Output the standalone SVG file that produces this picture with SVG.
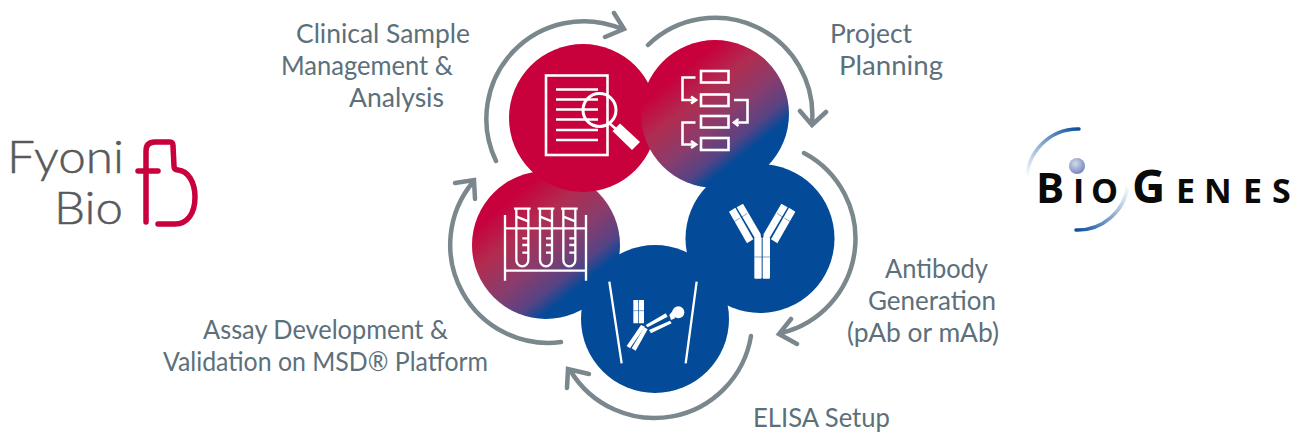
<svg xmlns="http://www.w3.org/2000/svg" width="1301" height="434" viewBox="0 0 1301 434">
<style>
.lbl{font-family:"Lato","Noto Sans",sans-serif;font-size:26.500px;fill:#5c707b}
.arc{fill:none;stroke:#7a878d;stroke-width:4.500;stroke-linecap:round;stroke-linejoin:miter}
.ic{fill:none;stroke:#fff;stroke-width:2.600}
.icz{fill:none;stroke:#fff;stroke-width:7}
.w{fill:#fff}
.fy{font-family:"Lato","Roboto",sans-serif;font-weight:300;font-size:46px;fill:#58595b;stroke:#58595b;stroke-width:.5}
.bg{font-family:"Open Sans",sans-serif;font-weight:700;fill:#0a0a0a}
</style>
<defs>
<linearGradient id="g2" gradientUnits="userSpaceOnUse" x1="692" y1="63" x2="757" y2="144"><stop offset="0" stop-color="#c8003c"/><stop offset=".3" stop-color="#b12c50"/><stop offset=".6" stop-color="#8a3c6c"/><stop offset=".85" stop-color="#574384"/><stop offset="1" stop-color="#034a98"/></linearGradient>
<linearGradient id="g5" gradientUnits="userSpaceOnUse" x1="503" y1="205" x2="573" y2="292"><stop offset="0" stop-color="#c8003c"/><stop offset=".3" stop-color="#b12c50"/><stop offset=".6" stop-color="#8a3c6c"/><stop offset=".85" stop-color="#574384"/><stop offset="1" stop-color="#034a98"/></linearGradient>
<radialGradient id="ball" cx=".4" cy=".35" r=".7"><stop offset="0" stop-color="#d5daea"/><stop offset="1" stop-color="#6f83bb"/></radialGradient>
<linearGradient id="a1" gradientUnits="userSpaceOnUse" x1="1079" y1="129" x2="1030" y2="180"><stop offset="0" stop-color="#0c4f9c"/><stop offset="1" stop-color="#fff"/></linearGradient>
<linearGradient id="a2" gradientUnits="userSpaceOnUse" x1="1076" y1="230" x2="1128" y2="185"><stop offset="0" stop-color="#0c4f9c"/><stop offset="1" stop-color="#fff"/></linearGradient>
</defs>
<rect width="1301" height="434" fill="#fff"/>
<g id="node-tubes">
<circle cx="546" cy="245" r="74" fill="url(#g5)"/>
<g transform="translate(495,200) scale(.33333)">
<path class="icz" d="M30 45V242M273 45V242M30 85H273M30 212H273"/>
<path class="icz" d="M64 27V180a18 19 0 0 0 36 0V27M135 27V180a18 19 0 0 0 36 0V27M205 27V180a18 19 0 0 0 36 0V27"/>
<path class="icz" stroke-width="8" d="M57 26H107M128 26H178M198 26H248"/>
<path class="icz" d="M64 50L100 64M135 50L171 64M205 50L241 64M82 115H100M82 135H100M82 158H100M153 115H171M153 135H171M153 158H171M223 115H241M223 135H241M223 158H241"/>
</g>
</g>
<g id="node-document">
<circle cx="583" cy="118" r="74" fill="#c8003c"/>
<rect class="ic" x="546" y="75.500" width="61.500" height="79.500"/>
<path class="ic" d="M556 89.500H598M556 99.500H598M556 109.500H598M556 119.500H598M556 130H598M556 140H598"/>
<circle cx="599.500" cy="110" r="16.500" fill="none" stroke="#fff" stroke-width="3"/>
<path class="ic" d="M609 123L616 129" stroke-width="3"/>
<polygon class="w" points="620,123.500 640,142 632,150 612.500,131"/>
</g>
<g id="node-planning">
<circle cx="715" cy="114" r="74" fill="url(#g2)"/>
<g class="ic">
<rect x="701" y="71" width="27.500" height="11.500"/>
<rect x="701" y="94.500" width="27.500" height="11.500"/>
<rect x="701" y="116" width="27.500" height="11.500"/>
<rect x="701" y="138" width="27.500" height="12"/>
<path d="M695.500 77.500H682.500V100H695M691 96.500L696 100L691 103.500M695.500 122.500H682.500V144.500H695M691 141L696 144.500L691 148M734 100H747.500V122.500H734M738.500 119L734 122.500L738.500 126"/>
</g>
</g>
<g id="node-antibody">
<circle cx="760" cy="238.500" r="74.500" fill="#034a98"/>
<g transform="translate(440,160) scale(.33333)">
<g class="w">
<rect x="943" y="232" width="22" height="124" rx="3"/><rect x="968" y="232" width="22" height="124" rx="3"/>
<polygon points="867,155 886,143 940,238 921,250"/><polygon points="890,142 909,131 962,222 963,233 944,233"/>
<polygon points="1066,155 1047,143 993,238 1012,250"/><polygon points="1043,142 1024,131 971,222 970,233 989,233"/>
</g>
<path d="M943 291H990M881 186L900 174M904 172L922 160M1052 186L1033 174M1029 172L1011 160" stroke="#034a98" stroke-width="1.500" fill="none"/>
</g>
</g>
<g id="node-elisa">
<circle cx="655" cy="319" r="74" fill="#034a98"/>
<g transform="translate(575,270) scale(.33333)">
<path class="icz" d="M103 35L140 280M365 35L332 280"/>
<g class="w">
<rect x="175" y="90" width="15" height="70" rx="1"/><rect x="192" y="90" width="15" height="70" rx="1"/>
<polygon points="198,165 155,228 165,235 210,170"/>
<polygon points="208,172 170,235 182,242 218,178"/>
<polygon points="212,165 272,130 278,140 218,172"/>
<polygon points="222,180 285,152 290,160 228,190"/>
<circle cx="310" cy="127" r="18"/>
<polygon points="283,135 295,120 300,145 288,150"/>
</g>
<path d="M175 122H207" stroke="#034a98" stroke-width="1.500" fill="none"/>
</g>
</g>
<g id="connectors">
<path class="arc" d="M496 161A97.500 97.500 0 0 1 622 29M614 13L624 29L605 37"/>
<path class="arc" d="M648 45A97 97 0 0 1 812 123M800 111L812 125L826 112"/>
<path class="arc" d="M804 153A97 97 0 0 1 781 333M791 319L779 334L797 344"/>
<path class="arc" d="M751 336A98 98 0 0 1 570 370M567 388L568 369L589 374"/>
<path class="arc" d="M561 342A98 98 0 0 1 473 182M455 183L474 180L475 199"/>
</g>
<g id="labels">
<text class="lbl" x="296" y="43" textLength="174" lengthAdjust="spacingAndGlyphs">Clinical Sample</text>
<text class="lbl" x="281" y="75" textLength="172" lengthAdjust="spacingAndGlyphs">Management &amp;</text>
<text class="lbl" x="349" y="107" textLength="95" lengthAdjust="spacingAndGlyphs">Analysis</text>
<text class="lbl" x="830" y="43" textLength="82" lengthAdjust="spacingAndGlyphs">Project</text>
<text class="lbl" x="839" y="75" textLength="104" lengthAdjust="spacingAndGlyphs">Planning</text>
<text class="lbl" x="885" y="278" textLength="103" lengthAdjust="spacingAndGlyphs">Antibody</text>
<text class="lbl" x="868" y="310" textLength="128" lengthAdjust="spacingAndGlyphs">Generation</text>
<text class="lbl" x="847" y="342" textLength="152" lengthAdjust="spacingAndGlyphs">(pAb or mAb)</text>
<text class="lbl" x="753" y="427" textLength="137" lengthAdjust="spacingAndGlyphs">ELISA Setup</text>
<text class="lbl" x="203" y="339" textLength="245" lengthAdjust="spacingAndGlyphs">Assay Development &amp;</text>
<text class="lbl" x="163" y="371" textLength="325" lengthAdjust="spacingAndGlyphs">Validation on MSD® Platform</text>
</g>
<g id="logo-fyoni">
<text class="fy" x="7" y="173" textLength="117" lengthAdjust="spacingAndGlyphs">Fyoni</text>
<text class="fy" x="54" y="224" textLength="69" lengthAdjust="spacingAndGlyphs">Bio</text>
<path d="M138 171H158M146 222V151Q146 142 155 142H170Q173 142 173 146L174 166Q174 170 178 170C188 171 195 182 195 197C195 214 187 224 175 224H158" fill="none" stroke="#c8003c" stroke-width="5.500" stroke-linecap="round"/>
</g>
<g id="logo-biogenes">
<path d="M1079 129A51 51 0 0 0 1027 182" fill="none" stroke="url(#a1)" stroke-width="3.500" stroke-linecap="round"/>
<path d="M1076 230A51 51 0 0 0 1128 185" fill="none" stroke="url(#a2)" stroke-width="3.500" stroke-linecap="round"/>
<circle cx="1077" cy="166" r="8" fill="url(#ball)"/>
<text class="bg" y="203" font-size="42"><tspan x="1036">B</tspan><tspan x="1073" font-size="34">I</tspan><tspan x="1091" font-size="34">O</tspan><tspan x="1132" font-size="46">G</tspan><tspan x="1176" font-size="34">E</tspan><tspan x="1204" font-size="34">N</tspan><tspan x="1243" font-size="34">E</tspan><tspan x="1272" font-size="34">S</tspan></text>
</g>
</svg>
